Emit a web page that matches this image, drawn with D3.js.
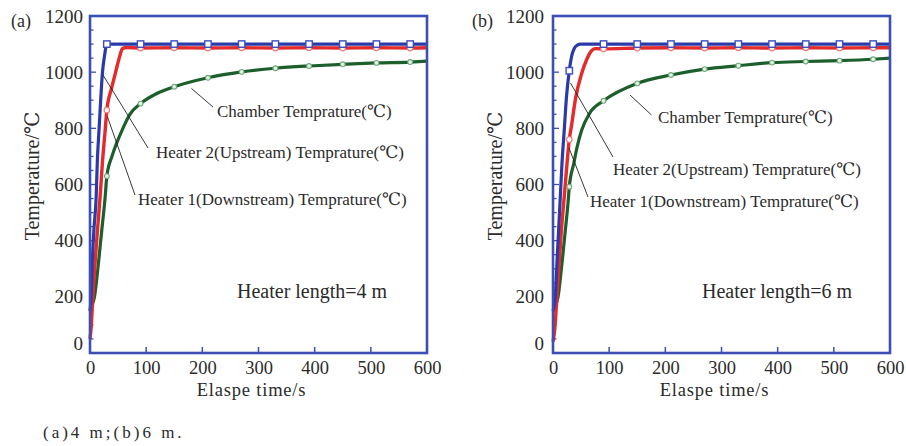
<!DOCTYPE html>
<html>
<head>
<meta charset="utf-8">
<script src="https://cdn.jsdelivr.net/npm/d3@7"></script>
<style>
  html, body { margin: 0; padding: 0; background: #fff; }
  svg { display: block; }
  text { font-family: "Liberation Serif", "DejaVu Serif", serif; fill: #2b2b2b; }
</style>
</head>
<body>
<svg id="chart" width="906" height="446"></svg>
<script>
// ---- tick labels ----
const xTickValues = [0, 100, 200, 300, 400, 500, 600];
const yTickValues = [0, 200, 400, 600, 800, 1000, 1200];

// ---- marker times (s) ----
const markerTimesA = [30, 90, 150, 210, 270, 330, 390, 450, 510, 570];
const markerTimesB = [29, 90, 150, 210, 270, 330, 390, 450, 510, 570];

// ---- (a) heater length 4 m ----
const heater2TimeA = [0, 2, 4, 7, 11, 13, 16, 19, 22, 26, 30, 90, 150, 210, 270, 330, 390, 450, 510, 570, 600];
const heater2TempA = [150, 200, 320, 440, 556, 680, 793, 900, 995, 1060, 1100, 1100, 1100, 1100, 1100, 1100, 1100, 1100, 1100, 1100, 1100];

const heater1TimeA = [0, 2, 5, 9, 13, 18, 22, 27, 30, 38, 45, 52, 58, 65, 90, 150, 210, 270, 330, 390, 450, 510, 570, 600];
const heater1TempA = [50, 90, 200, 320, 430, 556, 675, 793, 865, 940, 995, 1050, 1084, 1088, 1086, 1087, 1086, 1087, 1086, 1087, 1086, 1087, 1086, 1087];

const chamberTimeA = [0, 3, 8, 15, 21, 27, 30, 39, 48, 57, 71, 90, 120, 150, 210, 270, 330, 390, 450, 510, 570, 600];
const chamberTempA = [150, 165, 200, 320, 438, 556, 630, 700, 750, 793, 850, 888, 925, 948, 980, 1001, 1014, 1022, 1028, 1033, 1036, 1039];

// ---- (b) heater length 6 m ----
const heater2TimeB = [0, 4, 7, 10, 13, 16, 20, 24, 29, 33, 38, 44, 48, 90, 150, 210, 270, 330, 390, 450, 510, 570, 600];
const heater2TempB = [150, 200, 320, 438, 556, 675, 793, 912, 1005, 1055, 1085, 1097, 1100, 1100, 1100, 1100, 1100, 1100, 1100, 1100, 1100, 1100, 1100];

const heater1TimeB = [0, 3, 7, 11, 15, 20, 25, 29, 33, 40, 51, 60, 68, 75, 90, 150, 210, 270, 330, 390, 450, 510, 570, 600];
const heater1TempB = [40, 82, 200, 320, 438, 556, 675, 760, 810, 905, 995, 1045, 1075, 1084, 1083, 1086, 1087, 1086, 1087, 1086, 1087, 1086, 1087, 1087];

const chamberTimeB = [0, 4, 9, 16, 22, 27, 29, 37, 43, 51, 65, 90, 150, 210, 270, 330, 390, 450, 510, 570, 600];
const chamberTempB = [150, 165, 200, 320, 438, 540, 592, 675, 734, 793, 853, 898, 960, 990, 1011, 1023, 1034, 1038, 1041, 1046, 1050];

// ---- annotation texts ----
const labelChamber = "Chamber Temprature(℃)";
const labelHeater2 = "Heater 2(Upstream) Temprature(℃)";
const labelHeater1 = "Heater 1(Downstream) Temprature(℃)";
const heaterLengthA = "Heater length=4 m";
const heaterLengthB = "Heater length=6 m";
const xTitle = "Elaspe time/s";
const yTitle = "Temperature/℃";
const caption = "(a)4 m;(b)6 m.";

const COLORS = {
  frame: "#3c4fb4",
  heater2: "#2a3aa8",
  heater1: "#e42a2a",
  chamber: "#1d5f2c"
};

const zip = (ts, vs) => ts.map((t, i) => ({ t, v: vs[i] }));

const panels = [
  {
    tag: "(a)", left: 90, lengthLabel: heaterLengthA, markerTimes: markerTimesA,
    heater2: zip(heater2TimeA, heater2TempA),
    heater1: zip(heater1TimeA, heater1TempA),
    chamber: zip(chamberTimeA, chamberTempA),
    notes: {
      chamber: { text: [217, 117], line: [[191.5, 88.5], [213, 107]] },
      heater2: { text: [156, 158], line: [[103, 75], [148, 148]] },
      heater1: { text: [138, 205], line: [[107.5, 117], [135, 195]] },
      length: [237, 298]
    }
  },
  {
    tag: "(b)", left: 553, lengthLabel: heaterLengthB, markerTimes: markerTimesB,
    heater2: zip(heater2TimeB, heater2TempB),
    heater1: zip(heater1TimeB, heater1TempB),
    chamber: zip(chamberTimeB, chamberTempB),
    notes: {
      chamber: { text: [658, 123], line: [[630, 95], [651.5, 115]] },
      heater2: { text: [613, 175], line: [[570.5, 83], [613, 157]] },
      heater1: { text: [590, 207], line: [[569, 148], [588, 197]] },
      length: [702, 298]
    }
  }
];

const svg = d3.select("#chart");
const TOP = 16, BOTTOM = 353, W = 337;

panels.forEach(p => {
  const x = d3.scaleLinear().domain([0, 600]).range([p.left, p.left + W]);
  const y = d3.scaleLinear().domain([0, 1200]).range([BOTTOM, TOP]);
  const g = svg.append("g");

  // inner ticks on left axis (major every 200, minor every 50)
  g.append("g").selectAll("line")
    .data(d3.range(50, 1200, 50))
    .join("line")
    .attr("x1", p.left).attr("x2", d => p.left + (d % 200 === 0 ? 6 : 3.5))
    .attr("y1", d => y(d)).attr("y2", d => y(d))
    .attr("stroke", COLORS.frame).attr("stroke-width", 1.3);

  // inner ticks on bottom axis
  g.append("g").selectAll("line")
    .data(xTickValues.slice(1, -1))
    .join("line")
    .attr("x1", d => x(d)).attr("x2", d => x(d))
    .attr("y1", BOTTOM).attr("y2", BOTTOM - 6)
    .attr("stroke", COLORS.frame).attr("stroke-width", 1.5);

  // tick labels via d3 axes
  const ax = g.append("g").attr("transform", `translate(0,${BOTTOM})`)
    .call(d3.axisBottom(x).tickValues(xTickValues).tickSize(0).tickPadding(8).tickFormat(d3.format("d")));
  const ay = g.append("g").attr("transform", `translate(${p.left},0)`)
    .call(d3.axisLeft(y).tickValues(yTickValues).tickSize(0).tickPadding(p.left === 90 ? 7 : 9).tickFormat(d3.format("d")));
  [ax, ay].forEach(a => {
    a.select(".domain").remove();
    a.selectAll("text").attr("font-size", 19).attr("fill", "#2b2b2b")
      .attr("font-family", "'Liberation Serif', serif");
  });
  ax.selectAll("text").attr("font-size", 18.5);
  ay.selectAll(".tick").filter(d => d === 0).select("text").attr("dy", "-0.2em");

  // series
  const line = d3.line().x(d => x(d.t)).y(d => y(d.v)).curve(d3.curveMonotoneX);
  g.append("path").datum(p.chamber).attr("d", line)
    .attr("fill", "none").attr("stroke", COLORS.chamber).attr("stroke-width", 3.2);
  g.append("path").datum(p.heater1).attr("d", line)
    .attr("fill", "none").attr("stroke", COLORS.heater1).attr("stroke-width", 3.4);
  g.append("path").datum(p.heater2).attr("d", line)
    .attr("fill", "none").attr("stroke", COLORS.heater2).attr("stroke-width", 3.2);

  const atMarks = s => s.filter(d => p.markerTimes.includes(d.t));

  g.append("g").selectAll("circle").data(atMarks(p.chamber)).join("circle")
    .attr("cx", d => x(d.t)).attr("cy", d => y(d.v)).attr("r", 2.4)
    .attr("fill", "#e6f2e8").attr("stroke", "#6fa87a").attr("stroke-width", 1.1);
  g.append("g").selectAll("circle").data(atMarks(p.heater1)).join("circle")
    .attr("cx", d => x(d.t)).attr("cy", d => y(d.v)).attr("r", 2.8)
    .attr("fill", "#fff").attr("stroke", "#f07a7a").attr("stroke-width", 1.2);
  g.append("g").selectAll("rect").data(atMarks(p.heater2)).join("rect")
    .attr("x", d => x(d.t) - 3.2).attr("y", d => y(d.v) - 3.2)
    .attr("width", 6.4).attr("height", 6.4)
    .attr("fill", "#fff").attr("stroke", "#3a4cc0").attr("stroke-width", 1.4);

  // frame
  g.append("rect")
    .attr("x", p.left).attr("y", TOP).attr("width", W).attr("height", BOTTOM - TOP)
    .attr("fill", "none").attr("stroke", COLORS.frame).attr("stroke-width", 2.6);

  // leader lines and annotations
  const n = p.notes;
  [n.chamber, n.heater2, n.heater1].forEach((o, i) => {
    g.append("line")
      .attr("x1", o.line[0][0]).attr("y1", o.line[0][1])
      .attr("x2", o.line[1][0]).attr("y2", o.line[1][1])
      .attr("stroke", "#222").attr("stroke-width", 0.9);
    g.append("text").attr("x", o.text[0]).attr("y", o.text[1])
      .attr("font-size", 17)
      .text([labelChamber, labelHeater2, labelHeater1][i]);
  });
  g.append("text").attr("x", n.length[0]).attr("y", n.length[1])
    .attr("font-size", 20).text(p.lengthLabel);

  // axis titles
  g.append("text").attr("x", p.left + W / 2 - 7).attr("y", 396)
    .attr("text-anchor", "middle").attr("font-size", 18.5).attr("letter-spacing", 0.8).text(xTitle);
  g.append("text")
    .attr("transform", `translate(${p.left - 51},176) rotate(-90)`)
    .attr("text-anchor", "middle").attr("font-size", 20).text(yTitle);

  // panel tag
  g.append("text").attr("x", p.left === 90 ? 11 : 472).attr("y", 27)
    .attr("font-size", 18).text(p.tag);
});

svg.append("text").attr("x", 43).attr("y", 438)
  .attr("font-size", 17).attr("letter-spacing", 3).attr("fill", "#333")
  .text(caption);
</script>
</body>
</html>
